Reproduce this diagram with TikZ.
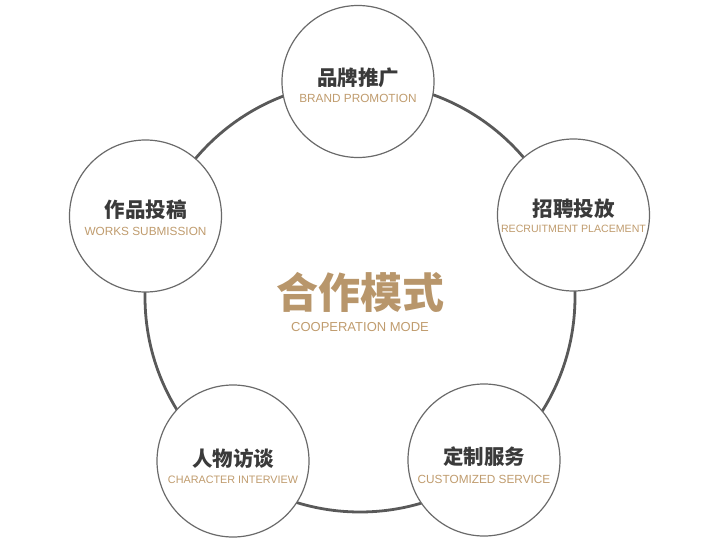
\documentclass[tikz,border=0pt]{standalone}
\usepackage{fontspec}
\setmainfont{Liberation Sans}
\newfontfamily\cjk{Noto Sans CJK SC}
\usetikzlibrary{calc, positioning}
\definecolor{inkDark}{HTML}{3A3A3A}
\definecolor{ringGrey}{HTML}{595959}
\definecolor{edgeGrey}{HTML}{6A6A6A}
\definecolor{accentTan}{HTML}{C09C6E}
\definecolor{hubTan}{HTML}{B8966B}
\tikzset{
  ring/.style={draw=ringGrey, line width=2.8pt, circle, minimum size=430pt, inner sep=0pt},
  bubble/.style={draw=edgeGrey, line width=1.2pt, circle, fill=white,
                 minimum size=152pt, inner sep=0pt},
  cnlabel/.style={font=\cjk\bfseries\fontsize{20.5}{22}\selectfont, text=inkDark, inner sep=0pt},
  enlabel/.style={font=\fontsize{11.8}{13}\selectfont, text=accentTan, inner sep=0pt},
}

\begin{document}
\begin{tikzpicture}[x=1pt, y=-1pt]
\useasboundingbox (0,0) rectangle (716,544);
% big ring and centre title
\node[ring] (hub) at (360,297) {};
\node[font=\cjk\bfseries\fontsize{42}{44}\selectfont, text=hubTan, inner sep=0pt]
     (hubT) at ($(hub.center)+(0,-5)$) {合作模式};
\node[font=\fontsize{13}{15}\selectfont, text=accentTan, inner sep=0pt]
     (hubS) at ($(hub.center)+(0,30)$) {COOPERATION MODE};
% five bubbles
\node[bubble] (brand)     at (358,81.5) {};
\node[bubble] (works)     at (145.5,216) {};
\node[bubble] (recruit)   at (573.5,215) {};
\node[bubble] (interview) at (233,461) {};
\node[bubble] (custom)    at (484,460) {};
\node[cnlabel] (brandT) at ($(brand.center)+(0,-4)$) {品牌推广};
\node[enlabel] (brandS) at ($(brand.center)+(0,17)$) {BRAND PROMOTION};
\node[cnlabel] (worksT) at ($(works.center)+(0,-6)$) {作品投稿};
\node[enlabel] (worksS) at ($(works.center)+(0,15)$) {WORKS SUBMISSION};
\node[cnlabel] (recruitT) at ($(recruit.center)+(0,-6)$) {招聘投放};
\node[enlabel, font=\fontsize{10.6}{12}\selectfont] (recruitS) at ($(recruit.center)+(0,14)$) {RECRUITMENT PLACEMENT};
\node[cnlabel] (interviewT) at ($(interview.center)+(0,-2)$) {人物访谈};
\node[enlabel, font=\fontsize{10.8}{12}\selectfont] (interviewS) at ($(interview.center)+(0,19)$) {CHARACTER INTERVIEW};
\node[cnlabel] (customT) at ($(custom.center)+(0,-3)$) {定制服务};
\node[enlabel] (customS) at ($(custom.center)+(0,19)$) {CUSTOMIZED SERVICE};
\end{tikzpicture}
\end{document}
